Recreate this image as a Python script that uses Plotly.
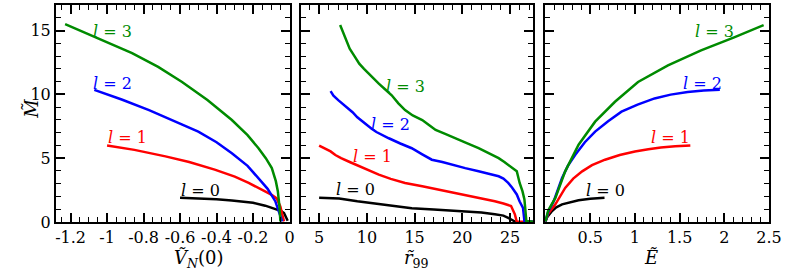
import plotly.graph_objects as go

# ---------------- data ----------------
# Left panel: M vs V_N(0)
v_l0 = [-0.60, -0.50, -0.40, -0.316, -0.20, -0.133, -0.08, -0.045, -0.03, -0.018, -0.010]
m_l0 = [1.90, 1.86, 1.78, 1.69, 1.50, 1.28, 1.05, 0.85, 0.70, 0.40, 0.10]
v_l1 = [-1.00, -0.85, -0.68, -0.55, -0.41, -0.30, -0.224, -0.15, -0.10, -0.07, -0.05, -0.04, -0.03]
m_l1 = [6.00, 5.65, 5.14, 4.70, 4.10, 3.55, 3.06, 2.55, 2.15, 1.85, 1.20, 0.60, 0.05]
v_l2 = [-1.07, -0.92, -0.77, -0.64, -0.50, -0.40, -0.316, -0.23, -0.17, -0.12, -0.078, -0.06, -0.05, -0.04]
m_l2 = [10.35, 9.60, 8.77, 7.95, 7.08, 6.25, 5.39, 4.40, 3.45, 2.60, 1.63, 0.95, 0.45, 0.05]
v_l3 = [-1.23, -1.05, -0.863, -0.72, -0.589, -0.45, -0.316, -0.23, -0.17, -0.13, -0.097, -0.075, -0.064, -0.055, -0.05]
m_l3 = [15.50, 14.40, 13.23, 12.15, 10.97, 9.55, 7.99, 6.80, 5.78, 5.00, 4.23, 3.20, 2.41, 1.20, 0.05]

# Middle panel: M vs r_99
r_l0 = [5.0, 7.1, 9.0, 11.25, 13.0, 14.7, 17.0, 19.9, 22.0, 23.4, 24.3, 24.8, 25.3, 25.6]
mr_l0 = [1.89, 1.84, 1.62, 1.38, 1.20, 1.07, 0.97, 0.86, 0.75, 0.60, 0.50, 0.33, 0.08, 0.00]
r_l1 = [5.0, 5.5, 6.2, 6.7, 7.3, 8.2, 9.2, 10.2, 11.25, 12.5, 14.0, 15.8, 17.5, 19.3, 21.0, 22.3, 23.4, 24.3, 25.1, 25.5, 25.7, 27.4]
mr_l1 = [5.99, 5.80, 5.53, 5.25, 5.00, 4.70, 4.36, 4.05, 3.71, 3.38, 3.06, 2.80, 2.54, 2.28, 2.02, 1.82, 1.63, 1.45, 1.25, 0.60, 0.02, 0.02]
r_l2 = [6.2, 6.5, 7.0, 7.5, 8.0, 8.5, 9.0, 9.5, 10.0, 10.5, 11.0, 11.6, 12.3, 13.5, 14.7, 15.8, 16.8, 17.9, 18.9, 20.3, 21.7, 22.8, 23.8, 24.3, 24.8, 25.2, 25.7, 26.0, 26.35, 26.5, 27.4]
mr_l2 = [10.25, 9.90, 9.55, 9.25, 8.90, 8.60, 8.20, 7.90, 7.55, 7.30, 7.05, 6.80, 6.56, 6.15, 5.78, 5.30, 4.88, 4.70, 4.49, 4.22, 3.97, 3.78, 3.58, 3.40, 3.06, 2.70, 2.16, 1.60, 1.11, 0.08, 0.02]
r_l3 = [7.2, 7.7, 8.2, 8.7, 9.2, 9.7, 10.2, 10.7, 11.25, 11.9, 12.6, 13.3, 14.0, 14.8, 15.8, 16.5, 17.2, 18.2, 19.2, 20.4, 21.7, 22.7, 23.8, 24.4, 25.0, 25.7, 26.0, 26.3, 26.5, 26.7, 27.4]
mr_l3 = [15.43, 14.50, 13.57, 13.00, 12.40, 12.00, 11.62, 11.20, 10.84, 10.40, 9.93, 9.30, 8.77, 8.35, 7.99, 7.60, 7.21, 6.90, 6.56, 6.20, 5.78, 5.40, 5.00, 4.70, 4.36, 3.97, 3.06, 2.40, 1.77, 0.08, 0.02]

# Right panel: M vs E
e_l0 = [0.0, 0.02, 0.073, 0.12, 0.185, 0.27, 0.37, 0.50, 0.66]
me_l0 = [0.05, 0.40, 0.86, 1.15, 1.38, 1.56, 1.71, 1.82, 1.89]
e_l1 = [0.0, 0.03, 0.11, 0.22, 0.31, 0.41, 0.52, 0.666, 0.83, 1.0, 1.15, 1.29, 1.45, 1.62]
me_l1 = [0.05, 0.65, 1.38, 2.67, 3.40, 3.97, 4.45, 4.88, 5.25, 5.53, 5.70, 5.84, 5.93, 5.99]
e_l2 = [0.0, 0.03, 0.092, 0.185, 0.25, 0.333, 0.44, 0.555, 0.70, 0.85, 1.03, 1.22, 1.40, 1.59, 1.77, 1.95]
me_l2 = [0.05, 0.80, 1.63, 3.45, 4.40, 5.27, 6.25, 7.08, 7.90, 8.64, 9.20, 9.68, 9.98, 10.19, 10.30, 10.37]
e_l3 = [0.0, 0.03, 0.11, 0.22, 0.37, 0.555, 0.777, 1.035, 1.37, 1.74, 2.11, 2.44]
me_l3 = [0.05, 0.90, 1.89, 3.97, 6.05, 7.86, 9.42, 10.97, 12.27, 13.44, 14.47, 15.43]

labels = ["<i>l</i> = 0", "<i>l</i> = 1", "<i>l</i> = 2", "<i>l</i> = 3"]
colors = ["#000000", "#ff0000", "#0000ff", "#008b00"]

# label anchor positions (data coords)
lab_left = [(-0.49, 2.45), (-0.89, 6.6), (-0.97, 10.85), (-0.97, 14.9)]
lab_mid = [(8.8, 2.55), (10.6, 5.15), (12.5, 7.65), (14.0, 10.6)]
lab_right = [(0.67, 2.5), (1.40, 6.6), (1.76, 10.85), (1.89, 14.95)]

left_ticks = [-1.2, -1.0, -0.8, -0.6, -0.4, -0.2, 0.0]
left_ticktext = ["-1.2", "-1", "-0.8", "-0.6", "-0.4", "-0.2", "0"]
mid_ticks = [5, 10, 15, 20, 25]
right_ticks = [0.5, 1.0, 1.5, 2.0, 2.5]
right_ticktext = ["0.5", "1", "1.5", "2", "2.5"]
y_ticks = [0, 5, 10, 15]

# ---------------- figure ----------------
FONT = "DejaVu Serif"
TICK_SIZE = 16
fig = go.Figure()

series = [
    ("x", "y", [(v_l0, m_l0), (v_l1, m_l1), (v_l2, m_l2), (v_l3, m_l3)]),
    ("x2", "y2", [(r_l0, mr_l0), (r_l1, mr_l1), (r_l2, mr_l2), (r_l3, mr_l3)]),
    ("x3", "y3", [(e_l0, me_l0), (e_l1, me_l1), (e_l2, me_l2), (e_l3, me_l3)]),
]
for xa, ya, sets in series:
    for i, (xs, ys) in enumerate(sets):
        fig.add_trace(go.Scatter(x=xs, y=ys, xaxis=xa, yaxis=ya, mode="lines",
                                 line=dict(color=colors[i], width=2.5, shape="linear"),
                                 showlegend=False, hoverinfo="skip"))

for (xa, ya, labs) in [("x", "y", lab_left), ("x2", "y2", lab_mid), ("x3", "y3", lab_right)]:
    for i, (lx, ly) in enumerate(labs):
        fig.add_annotation(x=lx, y=ly, xref=xa, yref=ya, text=labels[i], showarrow=False,
                           font=dict(family=FONT, size=16, color=colors[i]))

common_axis = dict(showline=True, linecolor="black", linewidth=2, mirror="allticks",
                   ticks="inside", ticklen=9, tickwidth=1.5, tickcolor="black",
                   showgrid=False, zeroline=False, ticklabeloverflow="allow",
                   tickfont=dict(family=FONT, size=TICK_SIZE, color="black"))
minor_style = dict(ticks="inside", ticklen=5, tickcolor="black", tickwidth=1.2, tick0=0)

d1 = [0.0, 0.3275]
d2 = [0.3436, 0.6697]
d3 = [0.6853, 1.0]

fig.update_layout(
    width=785, height=274,
    margin=dict(l=56, r=13, t=3, b=52),
    paper_bgcolor="white", plot_bgcolor="white",
    font=dict(family=FONT),
    xaxis=dict(domain=d1, range=[-1.28, 0.0], tickvals=left_ticks, ticktext=left_ticktext,
               minor=dict(dtick=0.05, **minor_style), anchor="y", **common_axis),
    yaxis=dict(domain=[0, 1], range=[0, 17], tickvals=y_ticks,
               minor=dict(dtick=1, **minor_style), anchor="x", **common_axis),
    xaxis2=dict(domain=d2, range=[3.1, 27.45], tickvals=mid_ticks,
                minor=dict(dtick=1, **minor_style), anchor="y2", **common_axis),
    yaxis2=dict(domain=[0, 1], range=[0, 17], tickvals=y_ticks, showticklabels=False,
                minor=dict(dtick=1, **minor_style), anchor="x2", **common_axis),
    xaxis3=dict(domain=d3, range=[-0.01, 2.5], tickvals=right_ticks, ticktext=right_ticktext,
                minor=dict(dtick=0.1, **minor_style), anchor="y3", **common_axis),
    yaxis3=dict(domain=[0, 1], range=[0, 17], tickvals=y_ticks, showticklabels=False,
                minor=dict(dtick=1, **minor_style), anchor="x3", **common_axis),
)

def px_to_paper_x(px):
    return (px - 56) / (785 - 56 - 13)

def px_to_paper_y(py):
    return (274 - 52 - py) / (274 - 52 - 3)

TITLE_SIZE = 18
fig.add_annotation(x=px_to_paper_x(172), y=px_to_paper_y(245), xref="paper", yref="paper",
                   yanchor="top", text="<i>\u1E7C</i><sub><i>N</i></sub>(0)", showarrow=False,
                   font=dict(family=FONT, size=TITLE_SIZE, color="black"))
fig.add_annotation(x=px_to_paper_x(418), y=px_to_paper_y(245), xref="paper", yref="paper",
                   yanchor="top", text="<i>r\u0303</i><sub>99</sub>", showarrow=False,
                   font=dict(family=FONT, size=TITLE_SIZE, color="black"))
fig.add_annotation(x=px_to_paper_x(663), y=px_to_paper_y(245), xref="paper", yref="paper",
                   yanchor="top", text="<i>\u1EBC</i>", showarrow=False,
                   font=dict(family=FONT, size=TITLE_SIZE, color="black"))
fig.add_annotation(x=px_to_paper_x(18), y=px_to_paper_y(108), xref="paper", yref="paper",
                   text="<i>M\u0303</i>", showarrow=False, textangle=-90,
                   font=dict(family=FONT, size=TITLE_SIZE, color="black"))

fig.write_html("out.html", config={"displayModeBar": False},
               post_script="document.body.style.margin='0px'; document.body.style.overflow='hidden';")
